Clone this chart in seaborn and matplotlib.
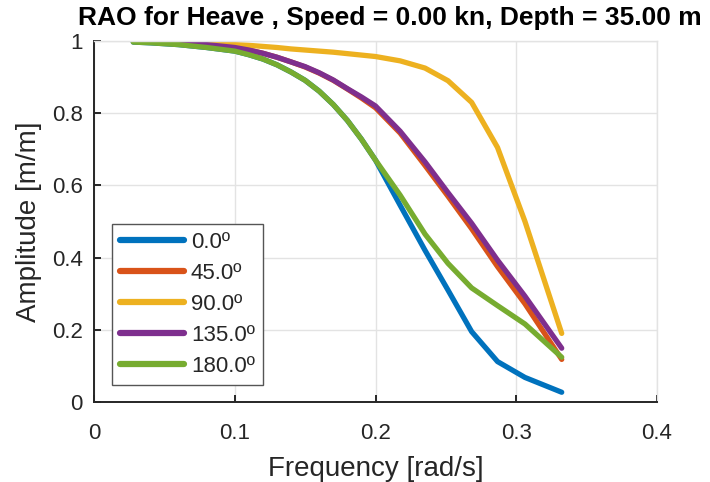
import matplotlib
matplotlib.use("Agg")
import matplotlib.pyplot as plt
import seaborn as sns
import pandas as pd

freq = [0.0279, 0.04, 0.06, 0.08, 0.10, 0.11, 0.12, 0.13, 0.14, 0.15, 0.16,
        0.17, 0.18, 0.19, 0.20, 0.2175, 0.2352, 0.2515, 0.2683, 0.2867,
        0.3062, 0.3323]

amp_0 = [0.997, 0.995, 0.99, 0.982, 0.972, 0.962, 0.95, 0.934, 0.914, 0.891,
         0.861, 0.824, 0.78, 0.728, 0.67, 0.545, 0.42, 0.31, 0.195, 0.112,
         0.068, 0.027]
amp_45 = [1.0, 0.999, 0.996, 0.99, 0.982, 0.975, 0.966, 0.955, 0.942, 0.928,
          0.911, 0.891, 0.867, 0.842, 0.815, 0.745, 0.655, 0.57, 0.48, 0.375,
          0.272, 0.118]
amp_90 = [1.0, 1.0, 0.999, 0.995, 0.99, 0.988, 0.985, 0.982, 0.978, 0.975,
          0.972, 0.969, 0.965, 0.961, 0.957, 0.945, 0.925, 0.89, 0.83, 0.705,
          0.50, 0.19]
amp_135 = [1.0, 0.999, 0.996, 0.99, 0.982, 0.975, 0.966, 0.955, 0.942, 0.929,
           0.912, 0.892, 0.868, 0.845, 0.82, 0.75, 0.665, 0.58, 0.495, 0.393,
           0.293, 0.149]
amp_180 = [0.997, 0.995, 0.99, 0.982, 0.972, 0.962, 0.95, 0.934, 0.914, 0.891,
           0.861, 0.824, 0.78, 0.728, 0.67, 0.573, 0.465, 0.384, 0.316, 0.267,
           0.216, 0.124]

headings = ["0.0º", "45.0º", "90.0º", "135.0º", "180.0º"]
colors = ["#0072BD", "#D95319", "#EDB120", "#7E2F8E", "#77AC30"]

series = [amp_0, amp_45, amp_90, amp_135, amp_180]
rows = []
for h, vals in zip(headings, series):
    for f, a in zip(freq, vals):
        rows.append({"Frequency": f, "Amplitude": a, "Heading": h})
df = pd.DataFrame(rows)

sns.set_theme(style="whitegrid")
plt.rcParams["font.family"] = ["Liberation Sans", "DejaVu Sans"]

fig = plt.figure(figsize=(7.10, 4.82), dpi=100)
ax = fig.add_axes([94/710, 1 - 402/482, (657-94)/710, (402-41)/482])

sns.lineplot(data=df, x="Frequency", y="Amplitude", hue="Heading",
             hue_order=headings, palette=colors, linewidth=3.8, ax=ax,
             sort=False)
for ln in ax.get_lines():
    ln.set_solid_joinstyle("round")

ax.set_xlim(0, 0.4)
ax.set_ylim(0, 1)
ax.set_xticks([0, 0.1, 0.2, 0.3, 0.4])
ax.set_xticklabels(["0", "0.1", "0.2", "0.3", "0.4"])
ax.set_yticks([0, 0.2, 0.4, 0.6, 0.8, 1.0])
ax.set_yticklabels(["0", "0.2", "0.4", "0.6", "0.8", "1"])
ax.grid(True, color="#e3e3e3", linewidth=1.0)
ax.set_facecolor("white")
for s in ["top", "right"]:
    ax.spines[s].set_color("#e3e3e3")
    ax.spines[s].set_linewidth(1.0)
for s in ["left", "bottom"]:
    ax.spines[s].set_color("#262626")
    ax.spines[s].set_linewidth(1.4)
ax.tick_params(axis="both", direction="in", length=5, width=1.4,
               color="#262626", labelsize=16, labelcolor="#262626", pad=8)
ax.tick_params(axis="x", pad=15)
ax.tick_params(top=False, right=False, left=True, bottom=True)

ax.set_xlabel("Frequency [rad/s]", fontsize=20, color="#262626", labelpad=9)
ax.set_ylabel("Amplitude [m/m]", fontsize=20, color="#262626", labelpad=7)

fig.text(390/710, 1 - 18/482, "RAO for Heave , Speed = 0.00 kn, Depth = 35.00 m",
         ha="center", va="center", fontsize=19, fontweight="bold", color="black")

leg = ax.legend(loc="lower left", bbox_to_anchor=(0.032, 0.047), borderaxespad=0,
                fontsize=16, handlelength=2.9, handletextpad=0.3,
                labelspacing=0.45, borderpad=0.35, frameon=True, fancybox=False,
                title=None)
leg.get_frame().set_edgecolor("#555555")
leg.get_frame().set_linewidth(1.0)
leg.get_frame().set_alpha(1)
for line in leg.get_lines():
    line.set_linewidth(4.5)

fig.savefig("out.png", dpi=100)
